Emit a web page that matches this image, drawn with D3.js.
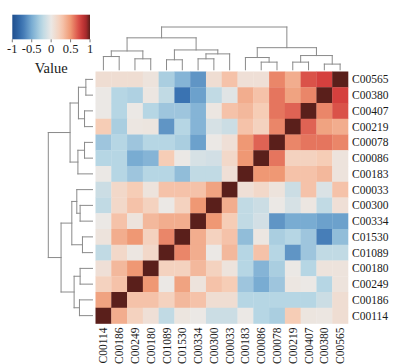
<!DOCTYPE html>
<html>
<head>
<meta charset="utf-8">
<script src="https://cdn.jsdelivr.net/npm/d3@7"></script>
<style>
  html, body { margin: 0; padding: 0; background: #fff; }
  svg { display: block; }
  text { font-family: "Liberation Serif", "DejaVu Serif", serif; fill: #1a1a1a; }
</style>
</head>
<body>
<svg id="chart" width="396" height="364"></svg>
<script>
// ---------------- DATA ----------------
const colLabels = ["C00114","C00186","C00249","C00180","C01089","C01530","C00334","C00300","C00033","C00183","C00086","C00078","C00219","C00407","C00380","C00565"];
const rowLabels = ["C00565","C00380","C00407","C00219","C00078","C00086","C00183","C00033","C00300","C00334","C01530","C01089","C00180","C00249","C00186","C00114"];

// correlation values, rows top->bottom, columns left->right
const rowC00565 = [0.10, 0.10, 0.10, 0.05,-0.30,-0.45,-0.60, 0.10, 0.30, 0.08, 0.08, 0.55, 0.40, 0.70, 0.75, 1.00];
const rowC00380 = [0.00,-0.25,-0.28, 0.02,-0.20,-0.75,-0.55,-0.20,-0.05, 0.40, 0.30, 0.60, 0.45, 0.55, 1.00, 0.75];
const rowC00407 = [0.00,-0.25, 0.00,-0.25,-0.35,-0.35,-0.45, 0.02, 0.30, 0.35, 0.25, 0.60, 0.65, 1.00, 0.55, 0.70];
const rowC00219 = [0.25,-0.30, 0.02, 0.03,-0.60,-0.25,-0.45,-0.10,-0.15, 0.30, 0.20, 0.55, 1.00, 0.65, 0.45, 0.40];
const rowC00078 = [-0.35,-0.25,-0.35,-0.25,-0.25,-0.30,-0.55, 0.00, 0.08, 0.50, 0.65, 1.00, 0.55, 0.60, 0.60, 0.55];
const rowC00086 = [-0.25,-0.25,-0.50,-0.45, 0.25, 0.00,-0.10,-0.12, 0.15, 0.50, 1.00, 0.60, 0.20, 0.20, 0.25, 0.05];
const rowC00183 = [0.00,-0.25,-0.35,-0.25,-0.25,-0.40,-0.20,-0.20, 0.08, 1.00, 0.50, 0.50, 0.30, 0.30, 0.35, 0.05];
const rowC00033 = [-0.15, 0.15, 0.25, 0.05, 0.30, 0.30, 0.30, 0.45, 1.00, 0.08, 0.15, 0.05,-0.15, 0.30,-0.08, 0.30];
const rowC00300 = [-0.20, 0.15, 0.30, 0.20, 0.00, 0.20, 0.50, 1.00, 0.40,-0.20,-0.15, 0.00,-0.10, 0.02,-0.20, 0.08];
const rowC00334 = [0.00, 0.30, 0.05, 0.35, 0.40, 0.40, 1.00, 0.50, 0.25,-0.20,-0.12,-0.60,-0.50,-0.50,-0.55,-0.55];
const rowC01530 = [0.05, 0.40, 0.50, 0.20, 0.55, 1.00, 0.40, 0.20, 0.30,-0.40, 0.02,-0.30,-0.25,-0.35,-0.70,-0.40];
const rowC01089 = [-0.20, 0.15, 0.02, 0.15, 1.00, 0.55, 0.40, 0.00, 0.35,-0.25, 0.30,-0.25,-0.60,-0.35,-0.20,-0.20];
const rowC00180 = [0.08, 0.35, 0.50, 1.00, 0.20, 0.20, 0.35, 0.20, 0.05,-0.25,-0.45,-0.30, 0.00,-0.25, 0.05, 0.05];
const rowC00249 = [0.20, 0.30, 1.00, 0.50, 0.00, 0.45, 0.05, 0.30, 0.25,-0.35,-0.50,-0.35, 0.02, 0.00,-0.25, 0.05];
const rowC00186 = [0.45, 1.00, 0.30, 0.30, 0.20, 0.35, 0.30, 0.10, 0.10,-0.25,-0.25,-0.25,-0.25,-0.25,-0.15, 0.10];
const rowC00114 = [1.00, 0.40, 0.20, 0.08,-0.20, 0.03, 0.00,-0.15,-0.15, 0.00,-0.25,-0.30, 0.25, 0.03, 0.02, 0.10];
const values = [rowC00565,rowC00380,rowC00407,rowC00219,rowC00078,rowC00086,rowC00183,rowC00033,
                rowC00300,rowC00334,rowC01530,rowC01089,rowC00180,rowC00249,rowC00186,rowC00114];

// dendrograms: [height, childA, childB]; numbers = leaf position index
const colTree = [1.00,
  [0.747,
    [0.44, [0.31, 0, 1], [0.257, 2, 3]],
    [0.464, [0.234, 4, 5], [0.372, [0.257, 6, 7], 8]]],
  [0.517,
    [0.287, 9, [0.179, 10, 11]],
    [0.333, [0.179, 12, 13], [0.133, 14, 15]]]];
const rowTree = [1.00,
  [0.507,
    [0.318, [0.15, 0, 1], [0.18, 2, 3]],
    [0.33, [0.18, 4, 5], 6]],
  [0.711,
    [0.468, [0.355, 7, [0.28, 8, 9]], [0.227, 10, 11]],
    [0.416, [0.28, 12, 13], [0.295, 14, 15]]]];

const legendTicks = [-1, -0.5, 0, 0.5, 1];
const legendTickLabels = ["-1", "-0.5", "0", "0.5", "1"];
const legendTitle = "Value";

// ---------------- DRAW ----------------
const svg = d3.select("#chart");
const hm = {x0: 95.5, x1: 348, y0: 71.5, y1: 323.5};

const xBand = d3.scaleBand().domain(d3.range(colLabels.length)).range([hm.x0, hm.x1]);
const yBand = d3.scaleBand().domain(d3.range(rowLabels.length)).range([hm.y0, hm.y1]);

const color = d3.scaleLinear()
  .domain([-1, -0.75, -0.5, -0.25, 0, 0.25, 0.5, 0.75, 0.9, 1])
  .range(["#1f4f8e", "#3a73b2", "#79acd2", "#b6d6e4", "#ebe8e5", "#f6cdb6", "#ef9874", "#d5403e", "#a62a2c", "#5a1f1b"])
  .clamp(true);

// cells
const cells = [];
values.forEach((row, i) => row.forEach((v, j) => cells.push({i, j, v})));
svg.append("g").selectAll("rect").data(cells).join("rect")
  .attr("x", d => xBand(d.j))
  .attr("y", d => yBand(d.i))
  .attr("width", xBand.bandwidth() + 0.3)
  .attr("height", yBand.bandwidth() + 0.3)
  .attr("fill", d => color(d.v));

// row labels (right)
svg.append("g").selectAll("text").data(rowLabels).join("text")
  .attr("x", hm.x1 + 4)
  .attr("y", (d, i) => yBand(i) + yBand.bandwidth() / 2)
  .attr("dy", "0.35em")
  .attr("font-size", 11.5)
  .text(d => d);

// column labels (bottom, rotated)
svg.append("g").selectAll("text").data(colLabels).join("text")
  .attr("transform", (d, j) => `translate(${xBand(j) + xBand.bandwidth() / 2},${hm.y1 + 4}) rotate(-90)`)
  .attr("text-anchor", "end")
  .attr("dy", "0.35em")
  .attr("font-size", 11.5)
  .text(d => d);

// dendrograms
function drawTree(tree, posScale, hScale, horizontalTop, g) {
  const segs = [];
  function walk(node) {
    if (typeof node === "number") {
      return {p: posScale(node) + posScale.bandwidth() / 2, h: 0};
    }
    const [h, a, b] = node;
    const A = walk(a), B = walk(b);
    segs.push([A.p, A.h, A.p, h]);
    segs.push([B.p, B.h, B.p, h]);
    segs.push([A.p, h, B.p, h]);
    return {p: (A.p + B.p) / 2, h};
  }
  walk(tree);
  g.selectAll("line").data(segs).join("line")
    .attr("x1", d => horizontalTop ? d[0] : hScale(d[1]))
    .attr("y1", d => horizontalTop ? hScale(d[1]) : d[0])
    .attr("x2", d => horizontalTop ? d[2] : hScale(d[3]))
    .attr("y2", d => horizontalTop ? hScale(d[3]) : d[2])
    .attr("stroke", "#8a8a8a")
    .attr("stroke-width", 1)
    .attr("stroke-linecap", "square");
}
drawTree(colTree, xBand, d3.scaleLinear([0, 1], [69.8, 27]), true, svg.append("g"));
drawTree(rowTree, yBand, d3.scaleLinear([0, 1], [92.5, 48.3]), false, svg.append("g"));

// legend
const lg = {x0: 12.3, x1: 90, y0: 14.7, y1: 39.3};
const lScale = d3.scaleLinear([-1, 1], [lg.x0, lg.x1]);
const defs = svg.append("defs");
const grad = defs.append("linearGradient").attr("id", "lgrad")
  .attr("x1", "0%").attr("x2", "100%").attr("y1", "0%").attr("y2", "0%");
d3.range(0, 1.0001, 0.05).forEach(t => {
  grad.append("stop").attr("offset", (t * 100) + "%").attr("stop-color", color(-1 + 2 * t));
});
svg.append("rect")
  .attr("x", lg.x0).attr("y", lg.y0)
  .attr("width", lg.x1 - lg.x0).attr("height", lg.y1 - lg.y0)
  .attr("fill", "url(#lgrad)");
const lt = svg.append("g");
lt.selectAll("line").data(legendTicks).join("line")
  .attr("x1", d => lScale(d)).attr("x2", d => lScale(d))
  .attr("y1", lg.y1).attr("y2", lg.y1 + 3)
  .attr("stroke", "#555").attr("stroke-width", 0.8);
lt.selectAll("text").data(legendTicks).join("text")
  .attr("x", d => lScale(d))
  .attr("y", 53)
  .attr("text-anchor", "middle")
  .attr("font-size", 12.5)
  .text((d, i) => legendTickLabels[i]);
svg.append("text")
  .attr("x", (lg.x0 + lg.x1) / 2)
  .attr("y", 73)
  .attr("text-anchor", "middle")
  .attr("font-size", 14.5)
  .text(legendTitle);
</script>
</body>
</html>
